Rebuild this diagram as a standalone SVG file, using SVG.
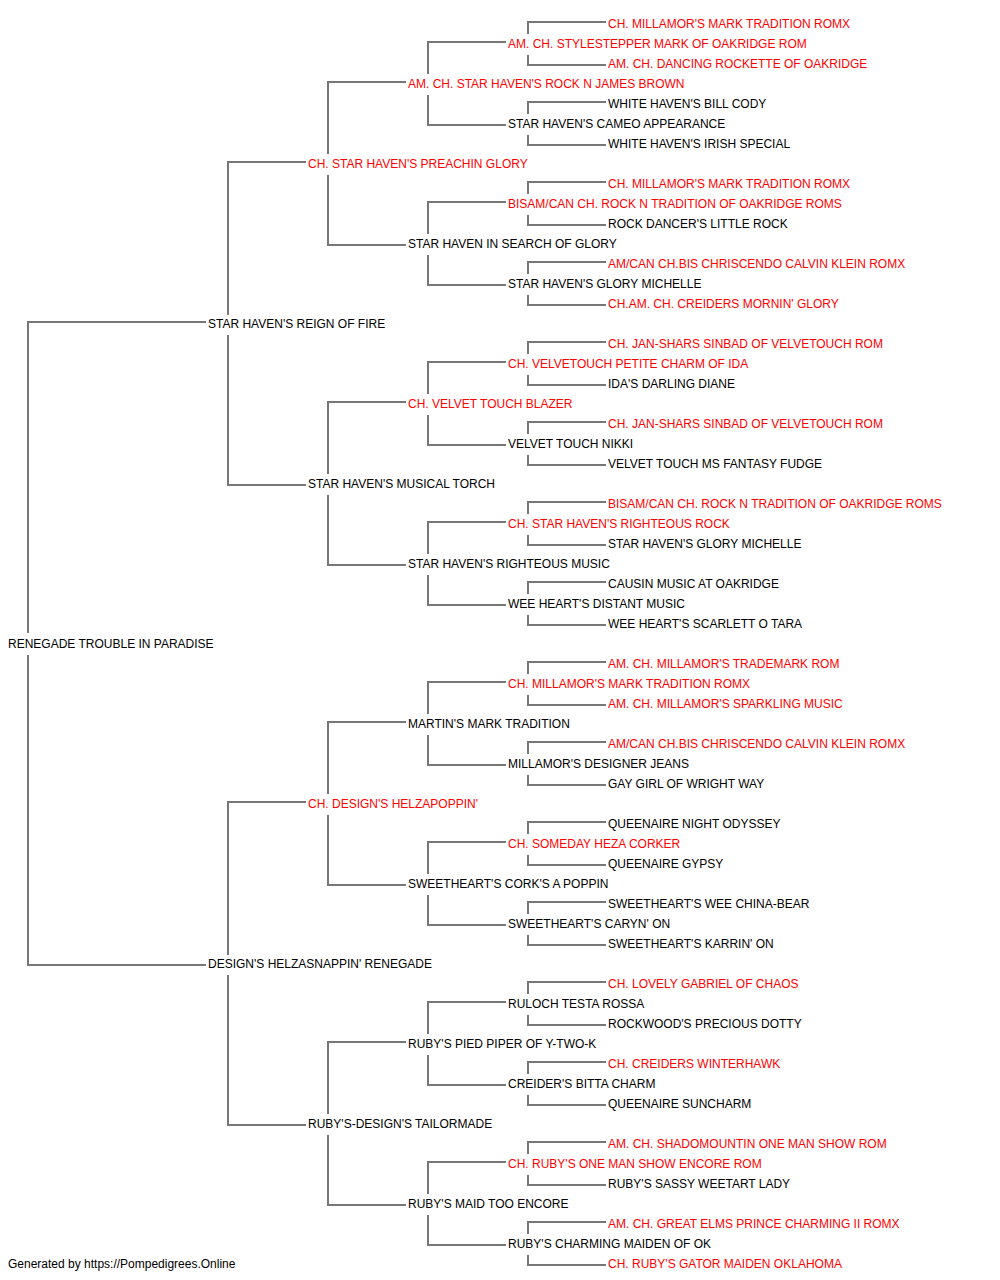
<svg xmlns="http://www.w3.org/2000/svg" width="1000" height="1280" viewBox="0 0 1000 1280">
<style>
text{font-family:"Liberation Sans",Arial,sans-serif;font-size:12px;fill:#000}
text.ch{fill:#ff0000}
.c path{fill:none;stroke:#777;stroke-width:2}
</style>
<rect width="1000" height="1280" fill="#fff"/>
<g class="c" id="connectors">
<path d="M28,633V322H206M28,655V965H206"/>
<path d="M228,315V162H306M228,335V485H306"/>
<path d="M228,955V802H306M228,975V1125H306"/>
<path d="M328,154V82H406M328,175V245H406"/>
<path d="M328,474V402H406M328,495V565H406"/>
<path d="M328,794V722H406M328,815V885H406"/>
<path d="M328,1114V1042H406M328,1135V1205H406"/>
<path d="M428,74V42H506M428,95V125H506"/>
<path d="M428,234V202H506M428,255V285H506"/>
<path d="M428,394V362H506M428,415V445H506"/>
<path d="M428,554V522H506M428,575V605H506"/>
<path d="M428,714V682H506M428,735V765H506"/>
<path d="M428,874V842H506M428,895V925H506"/>
<path d="M428,1034V1002H506M428,1055V1085H506"/>
<path d="M428,1194V1162H506M428,1215V1245H506"/>
<path d="M528,34V22H606M528,55V65H606"/>
<path d="M528,114V102H606M528,135V145H606"/>
<path d="M528,194V182H606M528,215V225H606"/>
<path d="M528,274V262H606M528,295V305H606"/>
<path d="M528,354V342H606M528,375V385H606"/>
<path d="M528,434V422H606M528,455V465H606"/>
<path d="M528,514V502H606M528,535V545H606"/>
<path d="M528,594V582H606M528,615V625H606"/>
<path d="M528,674V662H606M528,695V705H606"/>
<path d="M528,754V742H606M528,775V785H606"/>
<path d="M528,834V822H606M528,855V865H606"/>
<path d="M528,914V902H606M528,935V945H606"/>
<path d="M528,994V982H606M528,1015V1025H606"/>
<path d="M528,1074V1062H606M528,1095V1105H606"/>
<path d="M528,1154V1142H606M528,1175V1185H606"/>
<path d="M528,1234V1222H606M528,1255V1265H606"/>
</g>
<g id="n0"><text class="ch" x="608" y="28">CH. MILLAMOR'S MARK TRADITION ROMX</text></g>
<g id="n1"><text class="ch" x="508" y="48">AM. CH. STYLESTEPPER MARK OF OAKRIDGE ROM</text></g>
<g id="n2"><text class="ch" x="608" y="68">AM. CH. DANCING ROCKETTE OF OAKRIDGE</text></g>
<g id="n3"><text class="ch" x="408" y="88">AM. CH. STAR HAVEN'S ROCK N JAMES BROWN</text></g>
<g id="n4"><text x="608" y="108">WHITE HAVEN'S BILL CODY</text></g>
<g id="n5"><text x="508" y="128">STAR HAVEN'S CAMEO APPEARANCE</text></g>
<g id="n6"><text x="608" y="148">WHITE HAVEN'S IRISH SPECIAL</text></g>
<g id="n7"><text class="ch" x="308" y="168">CH. STAR HAVEN'S PREACHIN GLORY</text></g>
<g id="n8"><text class="ch" x="608" y="188">CH. MILLAMOR'S MARK TRADITION ROMX</text></g>
<g id="n9"><text class="ch" x="508" y="208">BISAM/CAN CH. ROCK N TRADITION OF OAKRIDGE ROMS</text></g>
<g id="n10"><text x="608" y="228">ROCK DANCER'S LITTLE ROCK</text></g>
<g id="n11"><text x="408" y="248">STAR HAVEN IN SEARCH OF GLORY</text></g>
<g id="n12"><text class="ch" x="608" y="268">AM/CAN CH.BIS CHRISCENDO CALVIN KLEIN ROMX</text></g>
<g id="n13"><text x="508" y="288">STAR HAVEN'S GLORY MICHELLE</text></g>
<g id="n14"><text class="ch" x="608" y="308">CH.AM. CH. CREIDERS MORNIN' GLORY</text></g>
<g id="n15"><text x="208" y="328">STAR HAVEN'S REIGN OF FIRE</text></g>
<g id="n16"><text class="ch" x="608" y="348">CH. JAN-SHARS SINBAD OF VELVETOUCH ROM</text></g>
<g id="n17"><text class="ch" x="508" y="368">CH. VELVETOUCH PETITE CHARM OF IDA</text></g>
<g id="n18"><text x="608" y="388">IDA'S DARLING DIANE</text></g>
<g id="n19"><text class="ch" x="408" y="408">CH. VELVET TOUCH BLAZER</text></g>
<g id="n20"><text class="ch" x="608" y="428">CH. JAN-SHARS SINBAD OF VELVETOUCH ROM</text></g>
<g id="n21"><text x="508" y="448">VELVET TOUCH NIKKI</text></g>
<g id="n22"><text x="608" y="468">VELVET TOUCH MS FANTASY FUDGE</text></g>
<g id="n23"><text x="308" y="488">STAR HAVEN'S MUSICAL TORCH</text></g>
<g id="n24"><text class="ch" x="608" y="508">BISAM/CAN CH. ROCK N TRADITION OF OAKRIDGE ROMS</text></g>
<g id="n25"><text class="ch" x="508" y="528">CH. STAR HAVEN'S RIGHTEOUS ROCK</text></g>
<g id="n26"><text x="608" y="548">STAR HAVEN'S GLORY MICHELLE</text></g>
<g id="n27"><text x="408" y="568">STAR HAVEN'S RIGHTEOUS MUSIC</text></g>
<g id="n28"><text x="608" y="588">CAUSIN MUSIC AT OAKRIDGE</text></g>
<g id="n29"><text x="508" y="608">WEE HEART'S DISTANT MUSIC</text></g>
<g id="n30"><text x="608" y="628">WEE HEART'S SCARLETT O TARA</text></g>
<g id="n31"><text x="8" y="648">RENEGADE TROUBLE IN PARADISE</text></g>
<g id="n32"><text class="ch" x="608" y="668">AM. CH. MILLAMOR'S TRADEMARK ROM</text></g>
<g id="n33"><text class="ch" x="508" y="688">CH. MILLAMOR'S MARK TRADITION ROMX</text></g>
<g id="n34"><text class="ch" x="608" y="708">AM. CH. MILLAMOR'S SPARKLING MUSIC</text></g>
<g id="n35"><text x="408" y="728">MARTIN'S MARK TRADITION</text></g>
<g id="n36"><text class="ch" x="608" y="748">AM/CAN CH.BIS CHRISCENDO CALVIN KLEIN ROMX</text></g>
<g id="n37"><text x="508" y="768">MILLAMOR'S DESIGNER JEANS</text></g>
<g id="n38"><text x="608" y="788">GAY GIRL OF WRIGHT WAY</text></g>
<g id="n39"><text class="ch" x="308" y="808">CH. DESIGN'S HELZAPOPPIN'</text></g>
<g id="n40"><text x="608" y="828">QUEENAIRE NIGHT ODYSSEY</text></g>
<g id="n41"><text class="ch" x="508" y="848">CH. SOMEDAY HEZA CORKER</text></g>
<g id="n42"><text x="608" y="868">QUEENAIRE GYPSY</text></g>
<g id="n43"><text x="408" y="888">SWEETHEART'S CORK'S A POPPIN</text></g>
<g id="n44"><text x="608" y="908">SWEETHEART'S WEE CHINA-BEAR</text></g>
<g id="n45"><text x="508" y="928">SWEETHEART'S CARYN' ON</text></g>
<g id="n46"><text x="608" y="948">SWEETHEART'S KARRIN' ON</text></g>
<g id="n47"><text x="208" y="968">DESIGN'S HELZASNAPPIN' RENEGADE</text></g>
<g id="n48"><text class="ch" x="608" y="988">CH. LOVELY GABRIEL OF CHAOS</text></g>
<g id="n49"><text x="508" y="1008">RULOCH TESTA ROSSA</text></g>
<g id="n50"><text x="608" y="1028">ROCKWOOD'S PRECIOUS DOTTY</text></g>
<g id="n51"><text x="408" y="1048">RUBY'S PIED PIPER OF Y-TWO-K</text></g>
<g id="n52"><text class="ch" x="608" y="1068">CH. CREIDERS WINTERHAWK</text></g>
<g id="n53"><text x="508" y="1088">CREIDER'S BITTA CHARM</text></g>
<g id="n54"><text x="608" y="1108">QUEENAIRE SUNCHARM</text></g>
<g id="n55"><text x="308" y="1128">RUBY'S-DESIGN'S TAILORMADE</text></g>
<g id="n56"><text class="ch" x="608" y="1148">AM. CH. SHADOMOUNTIN ONE MAN SHOW ROM</text></g>
<g id="n57"><text class="ch" x="508" y="1168">CH. RUBY'S ONE MAN SHOW ENCORE ROM</text></g>
<g id="n58"><text x="608" y="1188">RUBY'S SASSY WEETART LADY</text></g>
<g id="n59"><text x="408" y="1208">RUBY'S MAID TOO ENCORE</text></g>
<g id="n60"><text class="ch" x="608" y="1228">AM. CH. GREAT ELMS PRINCE CHARMING II ROMX</text></g>
<g id="n61"><text x="508" y="1248">RUBY'S CHARMING MAIDEN OF OK</text></g>
<g id="n62"><text class="ch" x="608" y="1268">CH. RUBY'S GATOR MAIDEN OKLAHOMA</text></g>
<g id="footer"><text x="8" y="1268">Generated by https://Pompedigrees.Online</text></g>
</svg>
